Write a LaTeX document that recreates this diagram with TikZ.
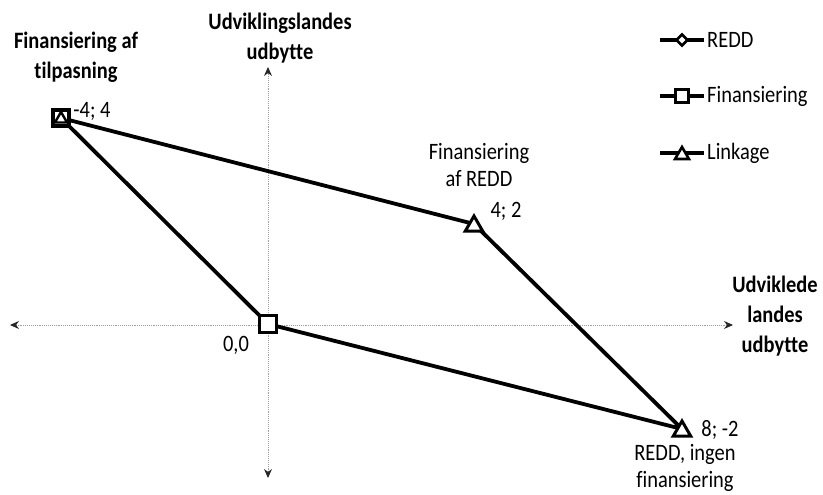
\documentclass[tikz,border=0pt]{standalone}
\usepackage{fontspec}
\setmainfont{Carlito}[FakeStretch=0.87,Ligatures=NoCommon]
\usetikzlibrary{arrows.meta,shapes.geometric,calc}
\begin{document}
\begin{tikzpicture}[x=1pt,y=-1pt,
  axis/.style={draw=gray!75,line width=0.9pt,densely dotted,{Stealth[length=9pt,width=8pt,color=black!85]}-{Stealth[length=9pt,width=8pt,color=black!85]}},
  edge/.style={draw=black,line width=3.8pt,line join=round},
  sqm/.style={draw=black,fill=white,line width=3.2pt,rectangle,minimum size=15pt,inner sep=0pt},
  trim/.style={draw=black,fill=white,line width=3pt,regular polygon,regular polygon sides=3,minimum size=20pt,inner sep=0pt},
  diam/.style={draw=black,fill=white,line width=2.6pt,diamond,minimum size=12pt,inner sep=0pt},
  lbl/.style={font=\fontsize{23.5}{27}\selectfont,inner sep=0pt,align=center},
  blbl/.style={font=\fontsize{23.5}{30}\selectfont\bfseries,inner sep=0pt,align=center},
  legline/.style={draw=black,line width=3.8pt}]
\useasboundingbox (0,0) rectangle (823,495);
% axes
\coordinate (xl) at (10,325);
\coordinate (xr) at (733,325);
\coordinate (yt) at (268,67);
\coordinate (yb) at (268,478);
\draw[axis] (xl) -- (xr);
\draw[axis] (yb) -- (yt);
% points
\coordinate (A) at (61,118);
\coordinate (B) at (474,224);
\coordinate (C) at (682,429);
\coordinate (O) at (268,324);
\draw[edge] (A) -- (B) -- (C) -- (O) -- cycle;
\node[sqm,minimum size=16pt] (Asq) at (A) {};
\node[trim,minimum size=14pt,line width=2.4pt] (Atr) at ([yshift=-1pt]A) {};
\node[sqm,minimum size=17pt] (Osq) at (O) {};
\node[trim] (Btr) at ([yshift=-2pt]B) {};
\node[trim] (Ctr) at ([yshift=-2pt]C) {};
% labels
\node[blbl] (ylab) at (280,38) {Udviklingslandes\\udbytte};
\node[blbl] (tlab) at (76,57) {Finansiering af\\tilpasning};
\node[blbl] (xlab) at (775,316) {Udviklede\\landes\\udbytte};
\node[lbl] (Alab) at (92,111) {-4; 4};
\node[lbl] (Blab) at (479,165) {Finansiering\\af REDD};
\node[lbl] (Bval) at (506,211) {4; 2};
\node[lbl] (Olab) at (236,345) {0,0};
\node[lbl] (Cval) at (720,430) {8; -2};
\node[lbl] (Clab) at (685,468) {REDD, ingen\\finansiering};
% legend
\coordinate (l1a) at (660,40); \coordinate (l1b) at (704,40);
\coordinate (l2a) at (660,96); \coordinate (l2b) at (704,96);
\coordinate (l3a) at (660,153); \coordinate (l3b) at (704,153);
\draw[legline] (l1a) -- (l1b);
\draw[legline] (l2a) -- (l2b);
\draw[legline] (l3a) -- (l3b);
\node[diam] (m1) at ($(l1a)!0.5!(l1b)$) {};
\node[sqm,minimum size=13pt,line width=2.8pt] (m2) at ($(l2a)!0.5!(l2b)$) {};
\node[trim,minimum size=16pt,line width=2.6pt] (m3) at ([yshift=-2pt]$(l3a)!0.5!(l3b)$) {};
\node[lbl,anchor=west] (t1) at (707,40) {REDD};
\node[lbl,anchor=west] (t2) at (707,96) {Finansiering};
\node[lbl,anchor=west] (t3) at (707,153) {Linkage};
\end{tikzpicture}
\end{document}
